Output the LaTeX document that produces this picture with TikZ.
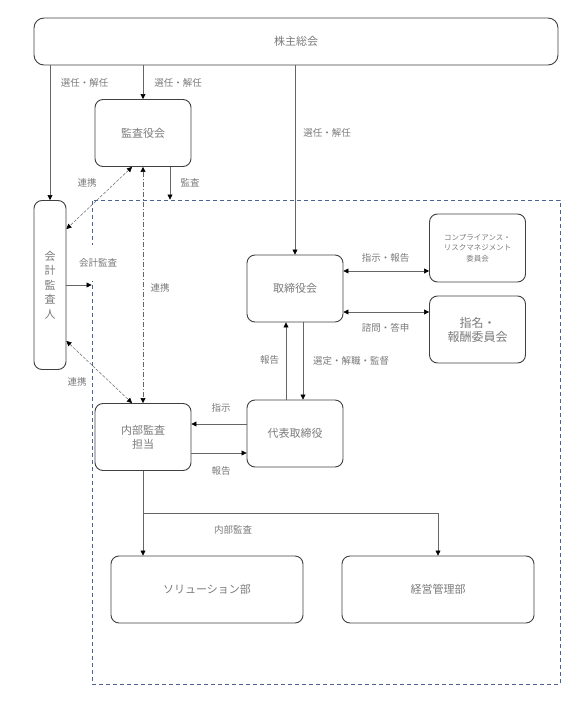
\documentclass[tikz,border=0pt]{standalone}
\usepackage{fontspec}
\setmainfont{Noto Sans CJK JP}
\usetikzlibrary{arrows.meta}
\definecolor{txtgray}{HTML}{7A7A7A}
\definecolor{linegray}{HTML}{666666}
\definecolor{frameblue}{HTML}{4A6296}
\tikzset{
  box/.style={draw=black!75, line width=0.9pt, rounded corners=8pt, minimum width=96pt,
    minimum height=67pt, align=center, text=txtgray, font=\fontsize{11}{14}\selectfont},
  lab/.style={text=txtgray, font=\fontsize{9.5}{11}\selectfont, inner sep=1pt},
  arr/.style={draw=linegray, line width=0.6pt, -{Triangle[length=5pt,width=5pt,color=black]}},
  darr/.style={arr, {Triangle[length=5pt,width=5pt,color=black]}-{Triangle[length=5pt,width=5pt,color=black]}},
  link/.style={darr, line width=0.5pt, dash pattern=on 3pt off 1.5pt},
  linkdd/.style={darr, dash pattern=on 5pt off 2pt on 1pt off 2pt},
  group/.style={draw=frameblue, line width=0.9pt, dash pattern=on 4pt off 3pt,
    minimum width=468pt, minimum height=484pt, inner sep=0pt}
}

\begin{document}
\begin{tikzpicture}[x=1pt,y=-1pt]
  \useasboundingbox (0,0) rectangle (584,714);
  \node[group] (grp) at (326,442) {};
  \node[box, rounded corners=10pt, minimum width=524pt, minimum height=47pt] (kabu) at (296,41.5) {株主総会};
  \node[box] (kansa) at (143,133) {監査役会};
  \node[box, minimum width=32pt, minimum height=169pt, inner sep=0pt, font=\fontsize{11}{14.5}\selectfont] (kaikei) at (50,285) {会\\計\\監\\査\\人};
  \node[box] (tori) at (295,288.5) {取締役会};
  \node[box, minimum height=68pt, font=\fontsize{7.5}{10.5}\selectfont] (comp) at (477.5,248) {コンプライアンス・\\リスクマネジメント\\委員会};
  \node[box, font=\fontsize{12}{14}\selectfont] (shimei) at (477.5,329.5) {指名・\\報酬委員会};
  \node[box] (naibu) at (143,437) {内部監査\\担当};
  \node[box] (daihyo) at (295,433.5) {代表取締役};
  \node[box, minimum width=192pt] (sol) at (207,589.5) {ソリューション部};
  \node[box, minimum width=192pt] (keiei) at (438,589.5) {経営管理部};

  \coordinate (kansaout) at ([xshift=27pt]kansa.south);
  \coordinate (split) at (143,513);

  \draw[arr] (kabu.south -| kaikei) -- (kaikei.north);
  \draw[arr] (kabu.south -| kansa) -- (kansa.north);
  \draw[arr] (kabu.south -| tori) -- (tori.north);
  \draw[arr] (kansaout) -- (kansaout |- grp.north);
  \draw[link] ([xshift=-11pt]kansa.south) -- ([yshift=56pt]kaikei.east);
  \draw[linkdd] (kansa.south) -- (naibu.north);
  \draw[arr] (kaikei.east) -- (kaikei.east -| grp.west);
  \draw[link] ([yshift=-56pt]kaikei.east) -- ([xshift=-11pt]naibu.north);
  \draw[darr] ([yshift=17.5pt]tori.east) -- ([yshift=17.5pt]tori.east -| comp.west);
  \draw[darr] ([yshift=-23.5pt]tori.east) -- ([yshift=-23.5pt]tori.east -| shimei.west);
  \draw[arr] ([xshift=-9pt]daihyo.north) -- ([xshift=-9pt]tori.south);
  \draw[arr] ([xshift=8pt]tori.south) -- ([xshift=8pt]daihyo.north);
  \draw[arr] ([yshift=9.5pt]daihyo.west) -- ([yshift=9.5pt]daihyo.west -| naibu.east);
  \draw[arr] ([yshift=-16pt]naibu.east) -- ([yshift=-16pt]naibu.east -| daihyo.west);
  \draw[arr] (naibu.south) -- (naibu.south |- sol.north);
  \draw[arr] (split) -| (keiei.north);

  \node[lab] (lsen1) at (84.5,83) {選任・解任};
  \node[lab] (lsen2) at (178,83) {選任・解任};
  \node[lab] (lsen3) at (327,133) {選任・解任};
  \node[lab] (lkansa) at (190,183) {監査};
  \node[lab] (lren1) at (87,183) {連携};
  \node[lab, fill=white, minimum height=36pt] (lkaikei) at (98,263) {会計監査};
  \node[lab] (lren2) at (160,288) {連携};
  \node[lab] (lren3) at (77,382) {連携};
  \node[lab] (lshiji) at (221,408) {指示};
  \node[lab] (lhoko1) at (221,471) {報告};
  \node[lab] (lhoko2) at (269.5,360) {報告};
  \node[lab] (lsentei) at (351,361) {選定・解職・監督};
  \node[lab] (lshihou) at (385.5,258) {指示・報告};
  \node[lab] (lshimon) at (385.5,328) {諮問・答申};
  \node[lab] (lnaibu) at (233,530) {内部監査};
\end{tikzpicture}
\end{document}
